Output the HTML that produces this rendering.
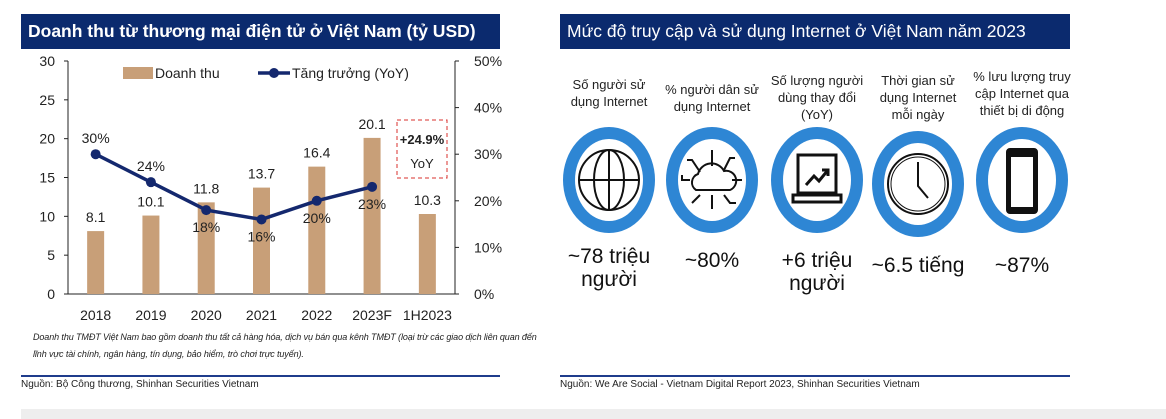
<!DOCTYPE html>
<html><head><meta charset="utf-8"><style>
body{margin:0;width:1166px;height:419px;background:#fff;position:relative;overflow:hidden;font-family:"Liberation Sans",sans-serif}
.hdr{position:absolute;top:14px;height:35px;background:#0b2a6e;color:#fff;font-size:17.5px;line-height:35px;padding-left:7px;box-sizing:border-box}
.t{position:absolute;text-align:center;color:#222;font-size:13px;line-height:17px;transform:translateX(-50%);white-space:nowrap}
.v{position:absolute;text-align:center;color:#111;font-size:21px;line-height:23px;transform:translateX(-50%);white-space:nowrap}
</style></head><body>
<div class="hdr" style="left:21px;width:479px;font-weight:bold">Doanh thu từ thương mại điện tử ở Việt Nam (tỷ USD)</div>
<div class="hdr" style="left:560px;width:510px">Mức độ truy cập và sử dụng Internet ở Việt Nam năm 2023</div>

<svg id="chart" width="560" height="419" style="position:absolute;left:0;top:0" font-family="Liberation Sans, sans-serif"></svg>

<div style="position:absolute;left:33px;top:329px;font-size:9px;font-style:italic;color:#222;line-height:17px;width:515px;letter-spacing:-0.1px">Doanh thu TMĐT Việt Nam bao gồm doanh thu tất cả hàng hóa, dịch vụ bán qua kênh TMĐT (loại trừ các giao dịch liên quan đến lĩnh vực tài chính, ngân hàng, tín dụng, bảo hiểm, trò chơi trực tuyến).</div>
<div style="position:absolute;left:21px;top:375px;width:479px;height:2px;background:#1f3c8c"></div>
<div style="position:absolute;left:21px;top:379px;font-size:10px;color:#222">Nguồn: Bộ Công thương, Shinhan Securities Vietnam</div>
<div style="position:absolute;left:560px;top:375px;width:510px;height:2px;background:#1f3c8c"></div>
<div style="position:absolute;left:560px;top:379px;font-size:10px;color:#222">Nguồn: We Are Social - Vietnam Digital Report 2023, Shinhan Securities Vietnam</div>
<div style="position:absolute;left:21px;top:409px;width:1145px;height:10px;background:#eeeeee"></div>

<svg id="icons" width="606" height="419" style="position:absolute;left:560px;top:0">
 <g fill="none" stroke="#111" stroke-width="2">
  <g>
   <ellipse cx="49" cy="180" rx="46" ry="53" fill="#2e86d4" stroke="none"/><ellipse cx="49" cy="180" rx="34" ry="41" fill="#fff" stroke="none"/>
   <circle cx="49" cy="180" r="30"/><ellipse cx="49" cy="180" rx="15" ry="30"/><line x1="49" y1="150" x2="49" y2="210"/><line x1="19" y1="180" x2="79" y2="180"/>
  </g>
  <g>
   <ellipse cx="152" cy="180" rx="46" ry="53" fill="#2e86d4" stroke="none"/><ellipse cx="152" cy="180" rx="34" ry="41" fill="#fff" stroke="none"/>
   <path d="M136 190 a9 9 0 0 1 2 -16 a14 14 0 0 1 26 -3 a10 10 0 0 1 6 19 z"/>
   <path d="M152 166 v-16 M140 172 l-8 -12 h-5 M164 170 l6 -12 h5 M130 180 h-8 v-5 M172 180 h10 M140 195 l-8 8 M152 195 v14 M164 195 l6 8 h6"/>
  </g>
  <g>
   <ellipse cx="257" cy="180" rx="46" ry="53" fill="#2e86d4" stroke="none"/><ellipse cx="257" cy="180" rx="34" ry="41" fill="#fff" stroke="none"/>
   <rect x="238" y="155" width="38" height="38" stroke-width="3"/><rect x="233" y="195" width="48" height="7" stroke-width="3"/>
   <path d="M246 185 l8 -9 l5 5 l9 -11 M262 170 h6 v6" stroke-width="3"/>
  </g>
  <g>
   <ellipse cx="358" cy="184" rx="46" ry="53" fill="#2e86d4" stroke="none"/><ellipse cx="358" cy="184" rx="34" ry="41" fill="#fff" stroke="none"/>
   <circle cx="358" cy="184" r="30"/><circle cx="358" cy="184" r="27" stroke-width="1"/><path d="M358 162 v24 l10 12"/>
  </g>
  <g>
   <ellipse cx="462" cy="180" rx="46" ry="53" fill="#2e86d4" stroke="none"/><ellipse cx="462" cy="180" rx="34" ry="41" fill="#fff" stroke="none"/>
   <rect x="447" y="149" width="30" height="64" rx="3" fill="#111"/><rect x="451" y="157" width="22" height="50" fill="#fff" stroke="none"/>
  </g>
 </g>
</svg>
<div class="t" style="left:609px;top:76px">Số người sử<br>dụng Internet</div>
<div class="t" style="left:712px;top:81px">% người dân sử<br>dụng Internet</div>
<div class="t" style="left:817px;top:72px">Số lượng người<br>dùng thay đổi<br>(YoY)</div>
<div class="t" style="left:918px;top:72px">Thời gian sử<br>dụng Internet<br>mỗi ngày</div>
<div class="t" style="left:1022px;top:68px">% lưu lượng truy<br>cập Internet qua<br>thiết bị di động</div>
<div class="v" style="left:609px;top:245px">~78 triệu<br>người</div>
<div class="v" style="left:712px;top:249px">~80%</div>
<div class="v" style="left:817px;top:249px">+6 triệu<br>người</div>
<div class="v" style="left:918px;top:254px">~6.5 tiếng</div>
<div class="v" style="left:1022px;top:254px">~87%</div>

<script>
const categories=["2018","2019","2020","2021","2022","2023F","1H2023"];
const revenue=[8.1,10.1,11.8,13.7,16.4,20.1,10.3];
const growth=[30,24,18,16,20,23];
const growthLabels=["30%","24%","18%","16%","20%","23%"];
const growthLabelBelow=[false,false,true,true,true,true];
const leftTicks=[0,5,10,15,20,25,30];
const rightTicks=[0,10,20,30,40,50];

const NS="http://www.w3.org/2000/svg";
const svg=document.getElementById('chart');
const X0=68,X1=455,Y0=294,Y1=61;
const band=(X1-X0)/categories.length;
const xc=i=>X0+band*(i+0.5);
const yL=v=>Y0-(v/30)*(Y0-Y1);
const yR=v=>Y0-(v/50)*(Y0-Y1);
function mk(tag,attrs,parent){const e=document.createElementNS(NS,tag);for(const k in attrs)e.setAttribute(k,attrs[k]);(parent||svg).appendChild(e);return e;}
function txt(x,y,s,attrs){const e=mk('text',Object.assign({x:x,y:y,'font-size':14,fill:'#222','text-anchor':'middle'},attrs||{}));e.textContent=s;return e;}

let a=mk('line',{x1:X0,y1:Y1,x2:X0,y2:Y0,stroke:'#222'});

a=mk('line',{x1:X1,y1:Y1,x2:X1,y2:Y0,stroke:'#222'});

a=mk('line',{x1:X0,y1:Y0,x2:X1,y2:Y0,stroke:'#222'});

leftTicks.forEach(v=>{mk('line',{x1:X0-4,y1:yL(v),x2:X0,y2:yL(v),stroke:'#222'});
 const t=txt(55,yL(v)+5,String(v),{'text-anchor':'end'});
 });
rightTicks.forEach(v=>{mk('line',{x1:X1,y1:yR(v),x2:X1+4,y2:yR(v),stroke:'#222'});
 const t=txt(474,yR(v)+5,v+'%',{'text-anchor':'start'});
 });
categories.forEach((c,i)=>{
 const b=mk('rect',{x:xc(i)-8.5,y:yL(revenue[i]),width:17,height:Y0-yL(revenue[i]),fill:'#c89f78'});
 
 const l=txt(xc(i),yL(revenue[i])-9,String(revenue[i]));
 
 const x=txt(xc(i),320,c);
 
});
const pts=growth.map((v,i)=>xc(i)+','+yR(v)).join(' ');
const pl=mk('polyline',{points:pts,fill:'none',stroke:'#14286e','stroke-width':3.5});

growth.forEach((v,i)=>{
 const c=mk('circle',{cx:xc(i),cy:yR(v),r:5,fill:'#14286e'});
 
 const t=txt(xc(i),growthLabelBelow[i]?yR(v)+22:yR(v)-11,growthLabels[i]);
 
});
let lg=mk('rect',{x:123,y:67,width:30,height:12,fill:'#c89f78'});

lg=txt(155,78,'Doanh thu',{'text-anchor':'start'});

lg=mk('line',{x1:258,y1:73,x2:290,y2:73,stroke:'#14286e','stroke-width':3.5});

lg=mk('circle',{cx:274,cy:73,r:5,fill:'#14286e'});

lg=txt(292,78,'Tăng trưởng (YoY)',{'text-anchor':'start'});

const box=mk('rect',{x:397,y:120,width:50,height:58,fill:'none',stroke:'#d9302c','stroke-dasharray':'4,3'});

let ct=txt(422,144,'+24.9%',{'font-weight':'bold','font-size':13});

ct=txt(422,168,'YoY',{'font-size':13});

</script>
</body></html>
